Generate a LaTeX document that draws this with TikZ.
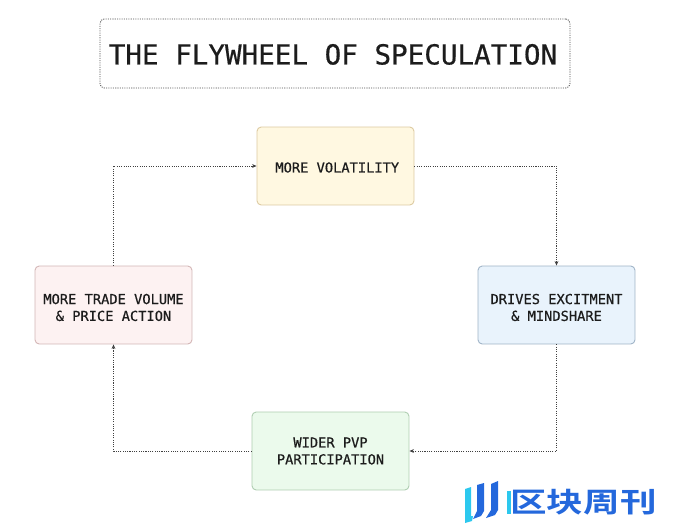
\documentclass[tikz,border=0pt]{standalone}
\usepackage{fontspec}
\usetikzlibrary{arrows.meta}
\newfontfamily\flowfont{DejaVu Sans Mono}[FakeBold=0.6]
\newfontfamily\cjk{Noto Sans CJK SC}[BoldFont={* Bold}]
\definecolor{volfill}{HTML}{FFF8E1}
\definecolor{voledge}{HTML}{DCC9A0}
\definecolor{drivefill}{HTML}{E9F3FC}
\definecolor{driveedge}{HTML}{9FB3C6}
\definecolor{tradefill}{HTML}{FDF2F2}
\definecolor{tradeedge}{HTML}{D2B5B5}
\definecolor{widerfill}{HTML}{EBFAEC}
\definecolor{wideredge}{HTML}{AECDB0}
\definecolor{logoblue}{HTML}{2468DC}
\definecolor{logocyan}{HTML}{2CC8EE}
\definecolor{inkgray}{HTML}{1C1C1C}
\tikzset{
	stagebox/.style={draw, rounded corners=2.4pt, line width=0.5pt, minimum width=3.14cm, minimum height=1.56cm, align=center, inner sep=0pt, text=inkgray, font=\flowfont\fontsize{7.8}{9.6}\selectfont},
	flowline/.style={draw=black!75, line cap=butt, dash pattern=on 0.6pt off 0.7pt, line width=0.45pt, -{Stealth[length=2.6pt,width=2.2pt]}},
}
\begin{document}
\begin{tikzpicture}[x=0.02cm, y=-0.02cm, line cap=round, line join=round]
	\useasboundingbox (0,0) rectangle (680,524);
	% title
	\node[draw=black!70, line cap=butt, dash pattern=on 0.6pt off 0.7pt, rounded corners=2.4pt, line width=0.5pt, minimum width=9.4cm, minimum height=1.38cm, inner sep=0pt, text=inkgray, font=\flowfont\fontsize{15.7}{18}\selectfont] (title) at (335,53.5) {\rule{0pt}{12.7pt}THE FLYWHEEL OF SPECULATION\hspace*{2.3pt}};
	% the four stages
	\node[stagebox, fill=volfill, draw=voledge] (vol) at (335.5,166) {\rule{0pt}{7.5pt}\hspace*{2pt}MORE VOLATILITY};
	\node[stagebox, fill=drivefill, draw=driveedge] (drive) at (556.5,305) {\rule{0pt}{8.6pt}DRIVES EXCITMENT\\\& MINDSHARE};
	\node[stagebox, fill=widerfill, draw=wideredge] (wider) at (330.5,451) {WIDER PVP\\PARTICIPATION};
	\node[stagebox, fill=tradefill, draw=tradeedge] (trade) at (113.5,305) {\rule{0pt}{8.6pt}MORE TRADE VOLUME\\\& PRICE ACTION};
	% connectors
	\draw[flowline] (vol.east) -| (drive.north);
	\draw[flowline] (drive.south) |- (wider.east);
	\draw[flowline] (wider.west) -| (trade.south);
	\draw[flowline] (trade.north) |- (vol.west);
	% logo bars
	\fill[logocyan] (465,489) -- (471,487) -- (471,516) -- (473,516) -- (472,521) -- (465,523) -- cycle;
	\fill[logoblue] (477,485) -- (484,483) -- (484,511) -- (481,516) -- (473,519) -- (477,511) -- cycle;
	\fill[logoblue] (491,484) -- (498,481) -- (498,510) -- (495,515) -- (486,518) -- (491,510) -- cycle;
	\fill[logocyan] (507,491) -- (511,491) -- (511,514) -- (507,514) -- cycle;
	\node[text=logoblue, font=\cjk\bfseries\fontsize{20.8}{22}\selectfont, inner sep=0pt] (logotext) at (583.5,502.5) {\scalebox{1}[0.76]{区块周刊}};
\end{tikzpicture}
\end{document}
